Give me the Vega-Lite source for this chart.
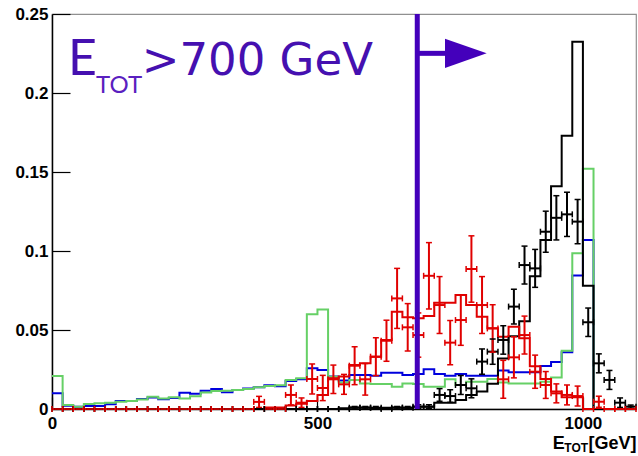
{
  "$schema": "https://vega.github.io/schema/vega-lite/v6.json",
  "width": 584,
  "height": 395,
  "autosize": {"type": "none"},
  "padding": {"left": 52, "top": 14, "right": 2, "bottom": 47},
  "background": "white",
  "config": {
    "view": {"stroke": "#909090", "strokeWidth": 1.2},
    "axis": {
      "domainColor": "#000000", "domainWidth": 1.5, "tickColor": "#000000", "tickWidth": 1.2,
      "labelColor": "#000000", "labelFont": "Liberation Sans", "labelFontWeight": "bold", "labelFontSize": 17,
      "grid": false, "labelFlush": false, "labelOverlap": false, "zindex": 1
    }
  },
  "datasets": {
    "hist": [
      {"e":0,"blue":0.0099,"green":0.0209,"black":0,"red":0},
      {"e":20,"blue":0.0021,"green":0.0025,"black":0,"red":0},
      {"e":40,"blue":0.0015,"green":0.0015,"black":0,"red":0},
      {"e":60,"blue":0.0019,"green":0.0032,"black":0,"red":0},
      {"e":80,"blue":0.0019,"green":0.0036,"black":0,"red":0},
      {"e":100,"blue":0.003,"green":0.004,"black":0,"red":0},
      {"e":120,"blue":0.005,"green":0.0046,"black":0,"red":0},
      {"e":140,"blue":0.0051,"green":0.005,"black":0,"red":0},
      {"e":160,"blue":0.0063,"green":0.006,"black":0,"red":0},
      {"e":180,"blue":0.0072,"green":0.0078,"black":0,"red":0},
      {"e":200,"blue":0.0061,"green":0.0067,"black":0,"red":0},
      {"e":220,"blue":0.007,"green":0.0074,"black":0,"red":0},
      {"e":240,"blue":0.0103,"green":0.0067,"black":0,"red":0},
      {"e":260,"blue":0.0097,"green":0.008,"black":0,"red":0},
      {"e":280,"blue":0.0116,"green":0.0105,"black":0,"red":0},
      {"e":300,"blue":0.0127,"green":0.0114,"black":0,"red":0},
      {"e":320,"blue":0.0106,"green":0.0116,"black":0,"red":0},
      {"e":340,"blue":0.012,"green":0.012,"black":0,"red":0},
      {"e":360,"blue":0.013,"green":0.0127,"black":0,"red":0},
      {"e":380,"blue":0.0137,"green":0.0137,"black":0,"red":0},
      {"e":400,"blue":0.015,"green":0.0146,"black":0,"red":0.001},
      {"e":420,"blue":0.0144,"green":0.015,"black":0,"red":0.001},
      {"e":440,"blue":0.0177,"green":0.0184,"black":0,"red":0.0022},
      {"e":460,"blue":0.0188,"green":0.0194,"black":0,"red":0.0033},
      {"e":480,"blue":0.0258,"green":0.06,"black":0,"red":0.005},
      {"e":500,"blue":0.0247,"green":0.063,"black":0,"red":0.0089},
      {"e":520,"blue":0.0205,"green":0.0204,"black":0,"red":0.0194},
      {"e":540,"blue":0.018,"green":0.0167,"black":0.0005,"red":0.0205},
      {"e":560,"blue":0.0215,"green":0.0184,"black":0.001,"red":0.0278},
      {"e":580,"blue":0.0215,"green":0.0162,"black":0.001,"red":0.0289},
      {"e":600,"blue":0.021,"green":0.0158,"black":0.0005,"red":0.0331},
      {"e":620,"blue":0.023,"green":0.0158,"black":0.0008,"red":0.0437},
      {"e":640,"blue":0.023,"green":0.0141,"black":0.001,"red":0.0616},
      {"e":660,"blue":0.0215,"green":0.0162,"black":0.0008,"red":0.058},
      {"e":680,"blue":0.0222,"green":0.0158,"black":0.0015,"red":0.0574},
      {"e":700,"blue":0.0251,"green":0.0141,"black":0.0015,"red":0.0589},
      {"e":720,"blue":0.0222,"green":0.0141,"black":0.004,"red":0.0673},
      {"e":740,"blue":0.0211,"green":0.0188,"black":0.004,"red":0.0673},
      {"e":760,"blue":0.0222,"green":0.0152,"black":0.0057,"red":0.0722},
      {"e":780,"blue":0.0211,"green":0.0173,"black":0.0089,"red":0.0658},
      {"e":800,"blue":0.0211,"green":0.0173,"black":0.011,"red":0.0584},
      {"e":820,"blue":0.0211,"green":0.019,"black":0.016,"red":0.0511},
      {"e":840,"blue":0.0243,"green":0.0167,"black":0.032,"red":0.0458},
      {"e":860,"blue":0.0232,"green":0.0162,"black":0.046,"red":0.0521},
      {"e":880,"blue":0.0232,"green":0.0162,"black":0.0555,"red":0.0447},
      {"e":900,"blue":0.0232,"green":0.0162,"black":0.084,"red":0.027},
      {"e":920,"blue":0.0272,"green":0.0173,"black":0.107,"red":0.019},
      {"e":940,"blue":0.0297,"green":0.02,"black":0.141,"red":0.011},
      {"e":960,"blue":0.0359,"green":0.0369,"black":0.173,"red":0.0075},
      {"e":980,"blue":0.0845,"green":0.0985,"black":0.2325,"red":0.0075},
      {"e":1000,"blue":0.107,"green":0.152,"black":0.078,"red":0},
      {"e":1020,"blue":0,"green":0,"black":0,"red":0},
      {"e":1040,"blue":0,"green":0,"black":0,"red":0},
      {"e":1060,"blue":0,"green":0,"black":0,"red":0},
      {"e":1080,"blue":0,"green":0,"black":0,"red":0},
      {"e":1100,"blue":0,"green":0,"black":0,"red":0}
    ],
    "pts": [
      {"s":"black","c":10,"x0":0,"x1":20,"v":0,"lo":0,"hi":0},
      {"s":"black","c":30,"x0":20,"x1":40,"v":0,"lo":0,"hi":0},
      {"s":"black","c":50,"x0":40,"x1":60,"v":0,"lo":0,"hi":0},
      {"s":"black","c":70,"x0":60,"x1":80,"v":0,"lo":0,"hi":0},
      {"s":"black","c":90,"x0":80,"x1":100,"v":0,"lo":0,"hi":0},
      {"s":"black","c":110,"x0":100,"x1":120,"v":0,"lo":0,"hi":0},
      {"s":"black","c":130,"x0":120,"x1":140,"v":0,"lo":0,"hi":0},
      {"s":"black","c":150,"x0":140,"x1":160,"v":0,"lo":0,"hi":0},
      {"s":"black","c":170,"x0":160,"x1":180,"v":0,"lo":0,"hi":0},
      {"s":"black","c":190,"x0":180,"x1":200,"v":0,"lo":0,"hi":0},
      {"s":"black","c":210,"x0":200,"x1":220,"v":0,"lo":0,"hi":0},
      {"s":"black","c":230,"x0":220,"x1":240,"v":0,"lo":0,"hi":0},
      {"s":"black","c":250,"x0":240,"x1":260,"v":0,"lo":0,"hi":0},
      {"s":"black","c":270,"x0":260,"x1":280,"v":0,"lo":0,"hi":0},
      {"s":"black","c":290,"x0":280,"x1":300,"v":0,"lo":0,"hi":0},
      {"s":"black","c":310,"x0":300,"x1":320,"v":0,"lo":0,"hi":0},
      {"s":"black","c":330,"x0":320,"x1":340,"v":0,"lo":0,"hi":0},
      {"s":"black","c":350,"x0":340,"x1":360,"v":0,"lo":0,"hi":0},
      {"s":"black","c":370,"x0":360,"x1":380,"v":0,"lo":0,"hi":0},
      {"s":"black","c":390,"x0":380,"x1":400,"v":0,"lo":0,"hi":0},
      {"s":"black","c":410,"x0":400,"x1":420,"v":0,"lo":0,"hi":0},
      {"s":"black","c":430,"x0":420,"x1":440,"v":0,"lo":0,"hi":0},
      {"s":"black","c":450,"x0":440,"x1":460,"v":0,"lo":0,"hi":0},
      {"s":"black","c":470,"x0":460,"x1":480,"v":0,"lo":0,"hi":0},
      {"s":"black","c":490,"x0":480,"x1":500,"v":0,"lo":0,"hi":0},
      {"s":"black","c":510,"x0":500,"x1":520,"v":0,"lo":0,"hi":0},
      {"s":"black","c":530,"x0":520,"x1":540,"v":0,"lo":0,"hi":0},
      {"s":"black","c":550,"x0":540,"x1":560,"v":0,"lo":0,"hi":0},
      {"s":"black","c":570,"x0":560,"x1":580,"v":0.0008,"lo":0,"hi":0.0016},
      {"s":"black","c":590,"x0":580,"x1":600,"v":0.0008,"lo":0,"hi":0.0016},
      {"s":"black","c":610,"x0":600,"x1":620,"v":0.0008,"lo":0,"hi":0.0016},
      {"s":"black","c":630,"x0":620,"x1":640,"v":0,"lo":0,"hi":0},
      {"s":"black","c":650,"x0":640,"x1":660,"v":0.0008,"lo":0,"hi":0.0016},
      {"s":"black","c":670,"x0":660,"x1":680,"v":0.0008,"lo":0,"hi":0.0016},
      {"s":"black","c":690,"x0":680,"x1":700,"v":0.0015,"lo":0.0003,"hi":0.0027},
      {"s":"black","c":710,"x0":700,"x1":720,"v":0.0015,"lo":0.0003,"hi":0.0027},
      {"s":"black","c":730,"x0":720,"x1":740,"v":0.0089,"lo":0.0049,"hi":0.0129},
      {"s":"black","c":750,"x0":740,"x1":760,"v":0.0082,"lo":0.0042,"hi":0.0122},
      {"s":"black","c":770,"x0":760,"x1":780,"v":0.0152,"lo":0.0092,"hi":0.0212},
      {"s":"black","c":790,"x0":780,"x1":800,"v":0.0131,"lo":0.0071,"hi":0.0191},
      {"s":"black","c":810,"x0":800,"x1":820,"v":0.03,"lo":0.022,"hi":0.038},
      {"s":"black","c":830,"x0":820,"x1":840,"v":0.0363,"lo":0.0283,"hi":0.0443},
      {"s":"black","c":850,"x0":840,"x1":860,"v":0.0437,"lo":0.0347,"hi":0.0527},
      {"s":"black","c":870,"x0":860,"x1":880,"v":0.0648,"lo":0.0538,"hi":0.0758},
      {"s":"black","c":890,"x0":880,"x1":900,"v":0.0911,"lo":0.0791,"hi":0.1031},
      {"s":"black","c":910,"x0":900,"x1":920,"v":0.089,"lo":0.077,"hi":0.101},
      {"s":"black","c":930,"x0":920,"x1":940,"v":0.1122,"lo":0.0992,"hi":0.1252},
      {"s":"black","c":950,"x0":940,"x1":960,"v":0.121,"lo":0.107,"hi":0.135},
      {"s":"black","c":970,"x0":960,"x1":980,"v":0.1232,"lo":0.1092,"hi":0.1372},
      {"s":"black","c":990,"x0":980,"x1":1000,"v":0.1186,"lo":0.1046,"hi":0.1326},
      {"s":"black","c":1010,"x0":1000,"x1":1020,"v":0.0549,"lo":0.0459,"hi":0.0639},
      {"s":"black","c":1030,"x0":1020,"x1":1040,"v":0.0289,"lo":0.0229,"hi":0.0349},
      {"s":"black","c":1050,"x0":1040,"x1":1060,"v":0.0184,"lo":0.0124,"hi":0.0244},
      {"s":"black","c":1070,"x0":1060,"x1":1080,"v":0.004,"lo":0.001,"hi":0.007},
      {"s":"black","c":1090,"x0":1080,"x1":1100,"v":0.0015,"lo":0.0005,"hi":0.0025},
      {"s":"red","c":10,"x0":0,"x1":20,"v":0,"lo":0,"hi":0},
      {"s":"red","c":30,"x0":20,"x1":40,"v":0,"lo":0,"hi":0},
      {"s":"red","c":50,"x0":40,"x1":60,"v":0,"lo":0,"hi":0},
      {"s":"red","c":70,"x0":60,"x1":80,"v":0,"lo":0,"hi":0},
      {"s":"red","c":90,"x0":80,"x1":100,"v":0,"lo":0,"hi":0},
      {"s":"red","c":110,"x0":100,"x1":120,"v":0,"lo":0,"hi":0},
      {"s":"red","c":130,"x0":120,"x1":140,"v":0,"lo":0,"hi":0},
      {"s":"red","c":150,"x0":140,"x1":160,"v":0,"lo":0,"hi":0},
      {"s":"red","c":170,"x0":160,"x1":180,"v":0,"lo":0,"hi":0},
      {"s":"red","c":190,"x0":180,"x1":200,"v":0,"lo":0,"hi":0},
      {"s":"red","c":210,"x0":200,"x1":220,"v":0,"lo":0,"hi":0},
      {"s":"red","c":230,"x0":220,"x1":240,"v":0,"lo":0,"hi":0},
      {"s":"red","c":250,"x0":240,"x1":260,"v":0,"lo":0,"hi":0},
      {"s":"red","c":270,"x0":260,"x1":280,"v":0,"lo":0,"hi":0},
      {"s":"red","c":290,"x0":280,"x1":300,"v":0,"lo":0,"hi":0},
      {"s":"red","c":310,"x0":300,"x1":320,"v":0,"lo":0,"hi":0},
      {"s":"red","c":330,"x0":320,"x1":340,"v":0,"lo":0,"hi":0},
      {"s":"red","c":350,"x0":340,"x1":360,"v":0,"lo":0,"hi":0},
      {"s":"red","c":370,"x0":360,"x1":380,"v":0,"lo":0,"hi":0},
      {"s":"red","c":390,"x0":380,"x1":400,"v":0.0045,"lo":0.001,"hi":0.008},
      {"s":"red","c":410,"x0":400,"x1":420,"v":0,"lo":0,"hi":0},
      {"s":"red","c":430,"x0":420,"x1":440,"v":0,"lo":0,"hi":0},
      {"s":"red","c":450,"x0":440,"x1":460,"v":0.0089,"lo":0.0026,"hi":0.0152},
      {"s":"red","c":470,"x0":460,"x1":480,"v":0.004,"lo":0.001,"hi":0.007},
      {"s":"red","c":490,"x0":480,"x1":500,"v":0.019,"lo":0.0095,"hi":0.0285},
      {"s":"red","c":510,"x0":500,"x1":520,"v":0.0133,"lo":0.0053,"hi":0.0213},
      {"s":"red","c":530,"x0":520,"x1":540,"v":0.0188,"lo":0.0098,"hi":0.0278},
      {"s":"red","c":550,"x0":540,"x1":560,"v":0.0156,"lo":0.0093,"hi":0.0219},
      {"s":"red","c":570,"x0":560,"x1":580,"v":0.0274,"lo":0.0154,"hi":0.0394},
      {"s":"red","c":590,"x0":580,"x1":600,"v":0.0188,"lo":0.0088,"hi":0.0288},
      {"s":"red","c":610,"x0":600,"x1":620,"v":0.0331,"lo":0.0211,"hi":0.0451},
      {"s":"red","c":630,"x0":620,"x1":640,"v":0.0432,"lo":0.0302,"hi":0.0562},
      {"s":"red","c":650,"x0":640,"x1":660,"v":0.07,"lo":0.051,"hi":0.089},
      {"s":"red","c":670,"x0":660,"x1":680,"v":0.0517,"lo":0.0367,"hi":0.0667},
      {"s":"red","c":690,"x0":680,"x1":700,"v":0.0468,"lo":0.0328,"hi":0.0608},
      {"s":"red","c":710,"x0":700,"x1":720,"v":0.0843,"lo":0.0633,"hi":0.1053},
      {"s":"red","c":730,"x0":720,"x1":740,"v":0.0658,"lo":0.0478,"hi":0.0838},
      {"s":"red","c":750,"x0":740,"x1":760,"v":0.042,"lo":0.028,"hi":0.056},
      {"s":"red","c":770,"x0":760,"x1":780,"v":0.0563,"lo":0.0403,"hi":0.0723},
      {"s":"red","c":790,"x0":780,"x1":800,"v":0.0886,"lo":0.0676,"hi":0.1096},
      {"s":"red","c":810,"x0":800,"x1":820,"v":0.0658,"lo":0.0478,"hi":0.0838},
      {"s":"red","c":830,"x0":820,"x1":840,"v":0.051,"lo":0.036,"hi":0.066},
      {"s":"red","c":850,"x0":840,"x1":860,"v":0.0188,"lo":0.0068,"hi":0.0308},
      {"s":"red","c":870,"x0":860,"x1":880,"v":0.0327,"lo":0.0197,"hi":0.0457},
      {"s":"red","c":890,"x0":880,"x1":900,"v":0.0468,"lo":0.0348,"hi":0.0588},
      {"s":"red","c":910,"x0":900,"x1":920,"v":0.0236,"lo":0.0131,"hi":0.0341},
      {"s":"red","c":930,"x0":920,"x1":940,"v":0.0152,"lo":0.0067,"hi":0.0237},
      {"s":"red","c":950,"x0":940,"x1":960,"v":0.0099,"lo":0.0039,"hi":0.0159},
      {"s":"red","c":970,"x0":960,"x1":980,"v":0.0089,"lo":0.0026,"hi":0.0152},
      {"s":"red","c":990,"x0":980,"x1":1000,"v":0.0082,"lo":0.0019,"hi":0.0145},
      {"s":"red","c":1010,"x0":1000,"x1":1020,"v":0,"lo":0,"hi":0},
      {"s":"red","c":1030,"x0":1020,"x1":1040,"v":0.0046,"lo":0.0011,"hi":0.0081},
      {"s":"red","c":1050,"x0":1040,"x1":1060,"v":0,"lo":0,"hi":0},
      {"s":"red","c":1070,"x0":1060,"x1":1080,"v":0,"lo":0,"hi":0},
      {"s":"red","c":1090,"x0":1080,"x1":1100,"v":0,"lo":0,"hi":0}
    ]
  },
  "layer": [
    {
      "data": {"name": "hist"},
      "transform": [{"fold": ["blue", "green", "black", "red"], "as": ["s", "v"]}],
      "mark": {"type": "line", "interpolate": "step-after", "strokeWidth": 2, "clip": true},
      "encoding": {
        "x": {"field": "e", "type": "quantitative", "title": null,
              "scale": {"domain": [0, 1100], "nice": false, "zero": false},
              "axis": {"values": [0, 500, 1000], "format": "d", "tickSize": -12, "labelPadding": 18}},
        "y": {"field": "v", "type": "quantitative", "title": null,
              "scale": {"domain": [0, 0.25], "nice": false},
              "axis": {"values": [0, 0.05, 0.1, 0.15, 0.2, 0.25], "format": ".2~f", "tickSize": -18, "labelPadding": 22}},
        "color": {"field": "s", "type": "nominal", "legend": null,
                  "scale": {"domain": ["blue", "green", "black", "red"], "range": ["#0000dd", "#66d066", "#000000", "#e00000"]}}
      }
    },
    {
      "data": {"name": "pts"},
      "mark": {"type": "rule", "strokeWidth": 2},
      "encoding": {
        "x": {"field": "x0", "type": "quantitative", "title": null},
        "x2": {"field": "x1"},
        "y": {"field": "v", "type": "quantitative", "title": null},
        "color": {"field": "s", "type": "nominal", "legend": null}
      }
    },
    {
      "data": {"name": "pts"},
      "mark": {"type": "rule", "strokeWidth": 2},
      "encoding": {
        "x": {"field": "c", "type": "quantitative", "title": null},
        "y": {"field": "lo", "type": "quantitative", "title": null},
        "y2": {"field": "hi"},
        "color": {"field": "s", "type": "nominal", "legend": null}
      }
    },
    {
      "data": {"name": "pts"},
      "mark": {"type": "tick", "orient": "vertical", "size": 6, "thickness": 1.5, "opacity": 1},
      "encoding": {
        "x": {"field": "x0", "type": "quantitative", "title": null},
        "y": {"field": "v", "type": "quantitative", "title": null},
        "color": {"field": "s", "type": "nominal", "legend": null}
      }
    },
    {
      "data": {"name": "pts"},
      "mark": {"type": "tick", "orient": "vertical", "size": 6, "thickness": 1.5, "opacity": 1},
      "encoding": {
        "x": {"field": "x1", "type": "quantitative", "title": null},
        "y": {"field": "v", "type": "quantitative", "title": null},
        "color": {"field": "s", "type": "nominal", "legend": null}
      }
    },
    {
      "data": {"name": "pts"},
      "mark": {"type": "tick", "orient": "horizontal", "size": 6, "thickness": 1.5, "opacity": 1},
      "encoding": {
        "x": {"field": "c", "type": "quantitative", "title": null},
        "y": {"field": "lo", "type": "quantitative", "title": null},
        "color": {"field": "s", "type": "nominal", "legend": null}
      }
    },
    {
      "data": {"name": "pts"},
      "mark": {"type": "tick", "orient": "horizontal", "size": 6, "thickness": 1.5, "opacity": 1},
      "encoding": {
        "x": {"field": "c", "type": "quantitative", "title": null},
        "y": {"field": "hi", "type": "quantitative", "title": null},
        "color": {"field": "s", "type": "nominal", "legend": null}
      }
    },
    {
      "data": {"values": [{"x": 688, "y0": 0, "y1": 0.25}]},
      "mark": {"type": "rule", "color": "#4400bb", "strokeWidth": 5},
      "encoding": {
        "x": {"field": "x", "type": "quantitative", "title": null},
        "y": {"field": "y0", "type": "quantitative", "title": null},
        "y2": {"field": "y1"}
      }
    },
    {
      "data": {"values": [{"x": 688, "x2": 742, "y": 0.2251}]},
      "mark": {"type": "rule", "color": "#4400bb", "strokeWidth": 5},
      "encoding": {
        "x": {"field": "x", "type": "quantitative", "title": null},
        "x2": {"field": "x2"},
        "y": {"field": "y", "type": "quantitative", "title": null}
      }
    },
    {
      "data": {"values": [{"x": 779.5, "y": 0.2251}]},
      "mark": {"type": "point", "shape": "M-1,-0.7L1,0L-1,0.7Z", "size": 1739, "filled": true, "opacity": 1, "color": "#4400bb", "strokeWidth": 0},
      "encoding": {
        "x": {"field": "x", "type": "quantitative", "title": null},
        "y": {"field": "y", "type": "quantitative", "title": null}
      }
    },
    {
      "data": {"values": [{"t": "E", "x": 30, "y": 0.2114}]},
      "mark": {"type": "text", "font": "Lato", "fontSize": 50, "color": "#4510b0", "align": "left", "baseline": "alphabetic"},
      "encoding": {
        "x": {"field": "x", "type": "quantitative", "title": null},
        "y": {"field": "y", "type": "quantitative", "title": null},
        "text": {"field": "t"}
      }
    },
    {
      "data": {"values": [{"t": "TOT", "x": 83, "y": 0.2}]},
      "mark": {"type": "text", "font": "Lato", "fontSize": 24, "color": "#5a20c0", "align": "left", "baseline": "alphabetic"},
      "encoding": {
        "x": {"field": "x", "type": "quantitative", "title": null},
        "y": {"field": "y", "type": "quantitative", "title": null},
        "text": {"field": "t"}
      }
    },
    {
      "data": {"values": [{"t": ">700 GeV", "x": 169, "y": 0.2114}]},
      "mark": {"type": "text", "font": "DejaVu Sans", "fontSize": 45, "color": "#4510b0", "align": "left", "baseline": "alphabetic"},
      "encoding": {
        "x": {"field": "x", "type": "quantitative", "title": null},
        "y": {"field": "y", "type": "quantitative", "title": null},
        "text": {"field": "t"}
      }
    },
    {
      "data": {"values": [{"t": "E", "x": 943, "y": -0.0253}]},
      "mark": {"type": "text", "font": "Liberation Sans", "fontWeight": "bold", "fontSize": 18, "color": "#000000", "align": "left", "baseline": "alphabetic"},
      "encoding": {
        "x": {"field": "x", "type": "quantitative", "title": null},
        "y": {"field": "y", "type": "quantitative", "title": null},
        "text": {"field": "t"}
      }
    },
    {
      "data": {"values": [{"t": "TOT", "x": 965, "y": -0.0272}]},
      "mark": {"type": "text", "font": "Liberation Sans", "fontWeight": "bold", "fontSize": 12, "color": "#000000", "align": "left", "baseline": "alphabetic"},
      "encoding": {
        "x": {"field": "x", "type": "quantitative", "title": null},
        "y": {"field": "y", "type": "quantitative", "title": null},
        "text": {"field": "t"}
      }
    },
    {
      "data": {"values": [{"t": "[GeV]", "x": 1101, "y": -0.0253}]},
      "mark": {"type": "text", "font": "Liberation Sans", "fontWeight": "bold", "fontSize": 18, "color": "#000000", "align": "right", "baseline": "alphabetic"},
      "encoding": {
        "x": {"field": "x", "type": "quantitative", "title": null},
        "y": {"field": "y", "type": "quantitative", "title": null},
        "text": {"field": "t"}
      }
    }
  ]
}
